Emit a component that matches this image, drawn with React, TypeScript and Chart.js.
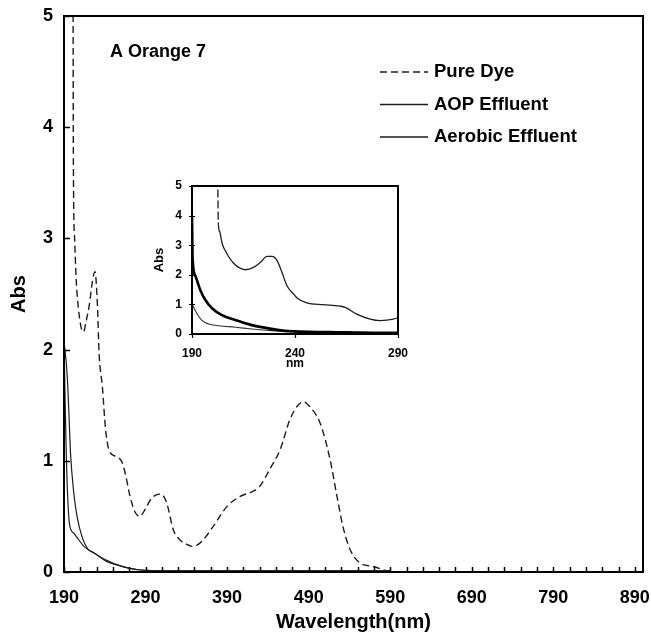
import React, { useEffect, useRef } from 'react';
import { Chart, registerables } from 'chart.js';

Chart.register(...registerables);

const FONT = '"Liberation Sans", Arial, Helvetica, sans-serif';

const chartTitle = 'A Orange 7';
const seriesLabels = ['Pure Dye', 'AOP Effluent', 'Aerobic Effluent'];
const xAxisTitle = 'Wavelength(nm)';
const yAxisTitle = 'Abs';
const insetXTitle = 'nm';

// main axis ticks
const xMinorTicks = [190, 210, 230, 250, 270, 290, 310, 330, 350, 370, 390, 410, 430, 450, 470, 490, 510, 530, 550, 570, 590, 610, 630, 650, 670, 690, 710, 730, 750, 770, 790, 810, 830, 850, 870, 890];
const xLabelTicks = [190, 290, 390, 490, 590, 690, 790, 890];
const yTicks = [0, 1, 2, 3, 4, 5];
const insetXTicks = [190, 240, 290];
const insetYTicks = [0, 1, 2, 3, 4, 5];

// main chart series
const pureDyeNm = [201, 201.5, 203, 205, 208, 211, 214, 217, 221, 225, 228, 231, 233, 237, 241, 245, 253, 261, 265, 271, 277, 283, 290, 296, 302, 309, 316, 324, 332, 340, 348, 355, 362, 373, 390, 406, 420, 430, 442, 455, 467, 477, 484, 491, 504, 516, 524, 532, 541, 553, 569, 586, 592];
const pureDyeAbs = [6, 3.7, 3.0, 2.62, 2.35, 2.2, 2.16, 2.25, 2.4, 2.62, 2.7, 2.4, 1.97, 1.67, 1.28, 1.1, 1.04, 0.99, 0.89, 0.68, 0.54, 0.5, 0.57, 0.65, 0.69, 0.7, 0.62, 0.38, 0.29, 0.25, 0.23, 0.25, 0.3, 0.41, 0.59, 0.68, 0.72, 0.77, 0.92, 1.1, 1.37, 1.5, 1.53, 1.49, 1.34, 1.02, 0.71, 0.41, 0.2, 0.08, 0.05, 0.01, 0];

const aopNm = [190, 194, 196, 198, 202, 206, 212, 220, 227, 241, 261, 281, 320, 400, 590];
const aopAbs = [2.08, 1.76, 1.43, 1.07, 0.71, 0.5, 0.32, 0.2, 0.17, 0.11, 0.05, 0.02, 0.01, 0.01, 0.01];

const aerobicNm = [190, 191.5, 193, 195, 197, 202, 208, 214.5, 220, 227, 241, 261, 281, 320, 400, 590];
const aerobicAbs = [2.08, 1.5, 1.0, 0.6, 0.42, 0.35, 0.29, 0.23, 0.2, 0.17, 0.1, 0.05, 0.02, 0.01, 0.01, 0.01];

// inset series (190-290 nm)
const insetPureDyeNm = [202.4, 202.8, 203.5, 204.2, 204.9, 206.2, 207.8, 210.2, 212.6, 215.9, 219.9, 223.2, 226.4, 228.8, 231.3, 233.7, 236.1, 239.3, 241, 245.7, 253.8, 261.8, 264.3, 270, 276.5, 281.3, 287.8, 290];
const insetPureDyeAbs = [6, 3.7, 3.45, 3.2, 3.0, 2.81, 2.61, 2.39, 2.25, 2.17, 2.25, 2.42, 2.62, 2.62, 2.48, 2.08, 1.63, 1.35, 1.22, 1.05, 0.99, 0.94, 0.9, 0.67, 0.5, 0.45, 0.5, 0.55];

const insetAopNm = [190, 190.3, 191.6, 194, 196.5, 199.7, 204.5, 211, 219, 227, 235, 240, 250, 260, 270, 280, 290];
const insetAopAbs = [4.0, 2.55, 1.97, 1.49, 1.15, 0.87, 0.64, 0.47, 0.3, 0.19, 0.11, 0.09, 0.07, 0.06, 0.05, 0.04, 0.04];

const insetAerobicNm = [190, 190.2, 192.3, 194.7, 198, 203, 211, 219, 227, 235, 250, 270, 290];
const insetAerobicAbs = [1.0, 0.98, 0.7, 0.47, 0.34, 0.28, 0.23, 0.17, 0.12, 0.08, 0.06, 0.05, 0.04];

const pts = (xs: number[], ys: number[]) => xs.map((x, i) => ({ x, y: ys[i] }));

const LINE = '#1c1c1c';
const DASH = [7, 4];

const fixX = (h: number) => (s: any) => {
  s.height = h;
  s.paddingLeft = 0;
  s.paddingRight = 0;
};
const fixY = (w: number) => (s: any) => {
  s.width = w;
  s.paddingTop = 0;
  s.paddingBottom = 0;
};

export default function App() {
  const mainRef = useRef<HTMLCanvasElement>(null);
  const insetRef = useRef<HTMLCanvasElement>(null);

  useEffect(() => {
    const mainDecor = {
      id: 'mainDecor',
      afterDatasetsDraw(chart: any) {
        const { ctx, chartArea, scales } = chart;
        const { left, top, right, bottom } = chartArea;
        const x = scales.x;
        const y = scales.y;
        ctx.save();
        ctx.strokeStyle = '#000';
        ctx.lineWidth = 2;
        ctx.strokeRect(left, top, right - left, bottom - top);
        ctx.lineWidth = 1.5;
        ctx.beginPath();
        xMinorTicks.forEach((v) => {
          const px = Math.round(x.getPixelForValue(v)) + 0.5;
          ctx.moveTo(px, bottom);
          ctx.lineTo(px, bottom - 5);
        });
        yTicks.forEach((v) => {
          const py = Math.round(y.getPixelForValue(v)) + 0.5;
          ctx.moveTo(left, py);
          ctx.lineTo(left + 6, py);
        });
        ctx.stroke();

        ctx.fillStyle = '#000';
        ctx.textBaseline = 'middle';
        ctx.textAlign = 'left';
        ctx.font = `bold 18px ${FONT}`;
        ctx.fillText(chartTitle, left + 46, top + 36);

        // legend
        ctx.font = `bold 18.5px ${FONT}`;
        chart.data.datasets.forEach((ds: any, i: number) => {
          const ly = top + 56 + i * 32.5;
          ctx.beginPath();
          ctx.setLineDash(ds.borderDash || []);
          ctx.lineWidth = 1.3;
          ctx.strokeStyle = ds.borderColor;
          ctx.moveTo(left + 316, ly);
          ctx.lineTo(left + 364, ly);
          ctx.stroke();
          ctx.setLineDash([]);
          ctx.fillText(ds.label, left + 370, ly);
        });
        ctx.restore();
      },
    };

    const main = new Chart(mainRef.current as HTMLCanvasElement, {
      type: 'line',
      data: {
        datasets: [
          {
            label: seriesLabels[0],
            data: pts(pureDyeNm, pureDyeAbs),
            borderColor: LINE,
            borderWidth: 1.4,
            borderDash: DASH,
            pointRadius: 0,
            cubicInterpolationMode: 'monotone',
            fill: false,
          },
          {
            label: seriesLabels[1],
            data: pts(aopNm, aopAbs),
            borderColor: LINE,
            borderWidth: 1.2,
            pointRadius: 0,
            cubicInterpolationMode: 'monotone',
            fill: false,
          },
          {
            label: seriesLabels[2],
            data: pts(aerobicNm, aerobicAbs),
            borderColor: LINE,
            borderWidth: 1.2,
            pointRadius: 0,
            cubicInterpolationMode: 'monotone',
            fill: false,
          },
        ],
      },
      options: {
        responsive: false,
        animation: false,
        devicePixelRatio: 1,
        layout: { padding: { top: 16, right: 8, left: 0, bottom: 0 } },
        plugins: { legend: { display: false }, tooltip: { enabled: false } },
        scales: {
          x: {
            type: 'linear',
            min: 190,
            max: 900,
            afterBuildTicks: (s: any) => {
              s.ticks = xMinorTicks.map((v) => ({ value: v }));
            },
            afterFit: fixX(62),
            grid: { display: false, drawTicks: false },
            border: { display: false },
            ticks: {
              autoSkip: false,
              maxRotation: 0,
              padding: 15,
              color: '#000',
              font: { family: FONT, size: 18, weight: 'bold' },
              callback: (v: any) => (xLabelTicks.includes(Number(v)) ? String(v) : ''),
            },
            title: {
              display: true,
              text: xAxisTitle,
              color: '#000',
              font: { family: FONT, size: 20, weight: 'bold' },
              padding: { top: 0, bottom: 0 },
            },
          },
          y: {
            min: 0,
            max: 5,
            afterBuildTicks: (s: any) => {
              s.ticks = yTicks.map((v) => ({ value: v }));
            },
            afterFit: fixY(64),
            grid: { display: false, drawTicks: false },
            border: { display: false },
            ticks: {
              padding: 11,
              color: '#000',
              font: { family: FONT, size: 18, weight: 'bold' },
            },
            title: {
              display: true,
              text: yAxisTitle,
              color: '#000',
              font: { family: FONT, size: 20, weight: 'bold' },
              padding: { top: 7, bottom: 0 },
            },
          },
        },
      },
      plugins: [mainDecor],
    } as any);

    const insetDecor = {
      id: 'insetDecor',
      beforeDatasetsDraw(chart: any) {
        const { ctx, chartArea } = chart;
        ctx.save();
        ctx.fillStyle = '#fff';
        ctx.fillRect(chartArea.left, chartArea.top, chartArea.right - chartArea.left, chartArea.bottom - chartArea.top);
        ctx.restore();
      },
      afterDatasetsDraw(chart: any) {
        const { ctx, chartArea, scales } = chart;
        const { left, top, right, bottom } = chartArea;
        ctx.save();
        ctx.strokeStyle = '#000';
        ctx.lineWidth = 2;
        ctx.strokeRect(left, top, right - left, bottom - top);
        ctx.lineWidth = 1.2;
        ctx.beginPath();
        insetXTicks.forEach((v) => {
          const px = Math.round(scales.x.getPixelForValue(v)) + 0.5;
          ctx.moveTo(px, bottom);
          ctx.lineTo(px, bottom + 4);
        });
        insetYTicks.forEach((v) => {
          const py = Math.round(scales.y.getPixelForValue(v)) + 0.5;
          ctx.moveTo(left - 3, py);
          ctx.lineTo(left + 3, py);
        });
        ctx.stroke();
        ctx.restore();
      },
    };

    const inset = new Chart(insetRef.current as HTMLCanvasElement, {
      type: 'line',
      data: {
        datasets: [
          {
            label: seriesLabels[0],
            data: pts(insetPureDyeNm, insetPureDyeAbs),
            borderColor: LINE,
            borderWidth: 1.3,
            pointRadius: 0,
            cubicInterpolationMode: 'monotone',
            segment: {
              borderDash: (c: any) => (c.p0.parsed.y > 3.75 ? [8, 3] : undefined),
            },
            fill: false,
          },
          {
            label: seriesLabels[1],
            data: pts(insetAopNm, insetAopAbs),
            borderColor: '#000',
            borderWidth: 2.6,
            pointRadius: 0,
            cubicInterpolationMode: 'monotone',
            fill: false,
          },
          {
            label: seriesLabels[2],
            data: pts(insetAerobicNm, insetAerobicAbs),
            borderColor: '#333',
            borderWidth: 1.1,
            pointRadius: 0,
            cubicInterpolationMode: 'monotone',
            fill: false,
          },
        ],
      },
      options: {
        responsive: false,
        animation: false,
        devicePixelRatio: 1,
        layout: { padding: { top: 10, right: 22, left: 0, bottom: 0 } },
        plugins: { legend: { display: false }, tooltip: { enabled: false } },
        scales: {
          x: {
            type: 'linear',
            min: 190,
            max: 290,
            afterBuildTicks: (s: any) => {
              s.ticks = insetXTicks.map((v) => ({ value: v }));
            },
            afterFit: fixX(42),
            grid: { display: false, drawTicks: false },
            border: { display: false },
            ticks: {
              autoSkip: false,
              maxRotation: 0,
              padding: 12,
              color: '#000',
              font: { family: FONT, size: 12, weight: 'bold' },
            },
            title: {
              display: true,
              text: insetXTitle,
              color: '#000',
              font: { family: FONT, size: 12, weight: 'bold' },
              padding: { top: 0, bottom: 5 },
            },
          },
          y: {
            min: 0,
            max: 5,
            afterBuildTicks: (s: any) => {
              s.ticks = insetYTicks.map((v) => ({ value: v }));
            },
            afterFit: fixY(52),
            grid: { display: false, drawTicks: false },
            border: { display: false },
            ticks: {
              padding: 10,
              color: '#000',
              font: { family: FONT, size: 12, weight: 'bold' },
            },
            title: {
              display: true,
              text: yAxisTitle,
              color: '#000',
              font: { family: FONT, size: 13, weight: 'bold' },
              padding: { top: 12, bottom: 0 },
            },
          },
        },
      },
      plugins: [insetDecor],
    } as any);

    return () => {
      main.destroy();
      inset.destroy();
    };
  }, []);

  return (
    <div style={{ position: 'absolute', left: 0, top: 0, width: 651, height: 634, background: '#fff' }}>
      <canvas ref={mainRef} width={651} height={634} style={{ position: 'absolute', left: 0, top: 0 }} />
      <canvas ref={insetRef} width={280} height={200} style={{ position: 'absolute', left: 140, top: 176 }} />
    </div>
  );
}
